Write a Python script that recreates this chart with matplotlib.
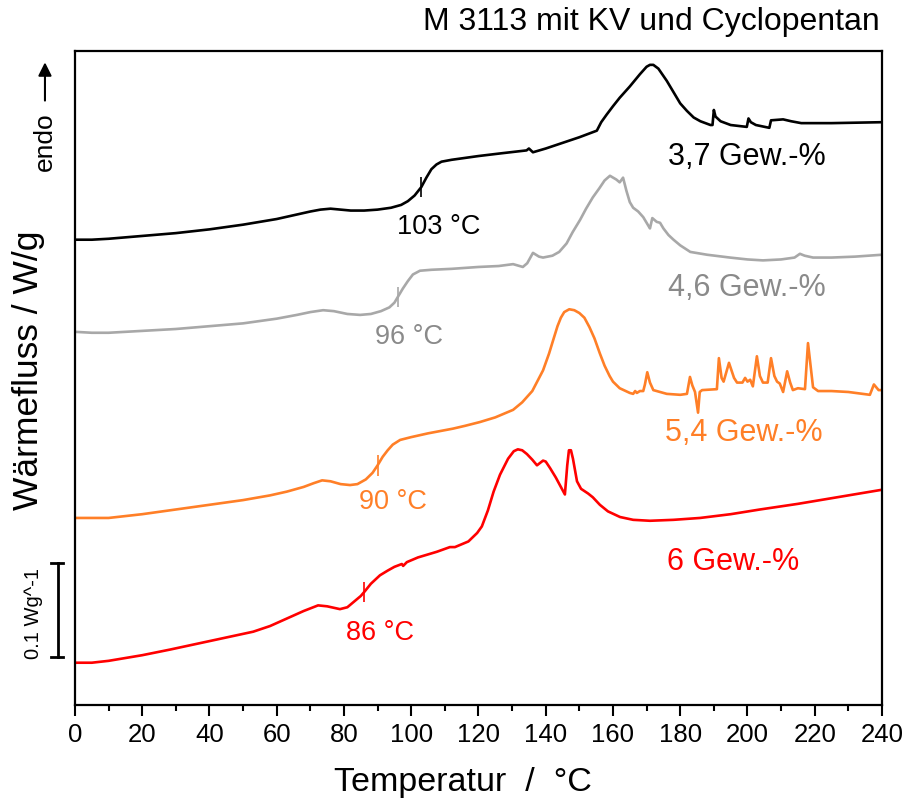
import numpy as np
import matplotlib
matplotlib.use("Agg")
import matplotlib.pyplot as plt
from matplotlib.transforms import blended_transform_factory

plt.rcParams['font.family'] = ['Liberation Sans', 'DejaVu Sans']

# Werte (Temperatur in °C, Wärmefluss in W/g, versetzt)
t_37 = [0, 5, 10, 20, 30, 40, 50, 60, 65, 70, 73, 76, 79, 82, 86, 90, 94, 97, 99, 101,
        103, 104.5, 106, 107.5, 109, 112, 116, 120, 127, 134.3, 135, 136.2, 140, 145, 150,
        155.2, 156.5, 158.1, 160, 162, 165, 168, 170, 171, 172, 173.5, 176, 178, 180, 182,
        184, 186, 189, 189.6, 190, 190.5, 192, 195, 199.8, 200.3, 201, 202.5, 206.5, 207,
        210.6, 213, 216, 225, 240]
q_37 = [0.495, 0.495, 0.496, 0.499, 0.502, 0.506, 0.511, 0.517, 0.521, 0.525, 0.527, 0.528,
        0.527, 0.526, 0.526, 0.527, 0.529, 0.532, 0.536, 0.542, 0.551, 0.561, 0.570, 0.575,
        0.578, 0.580, 0.582, 0.584, 0.587, 0.590, 0.592, 0.588, 0.592, 0.598, 0.604, 0.611,
        0.620, 0.628, 0.637, 0.646, 0.658, 0.671, 0.679, 0.681, 0.681, 0.677, 0.664, 0.652,
        0.640, 0.632, 0.625, 0.621, 0.617, 0.617, 0.633, 0.626, 0.621, 0.617, 0.615, 0.624,
        0.620, 0.617, 0.614, 0.622, 0.623, 0.621, 0.619, 0.619, 0.620]

t_46 = [0, 5, 10, 20, 30, 40, 50, 60, 66, 70, 73.8, 77, 81, 84.8, 88, 91, 93.5, 95, 96, 97.5,
        99, 100.5, 102.6, 106, 112, 120, 126, 130.3, 133.2, 134.5, 136.2, 138, 139.2, 142,
        144, 146.2, 148, 150.2, 152, 154, 156, 157.5, 159.1, 161, 162, 163, 164, 165, 166,
        167.5, 169, 170.5, 171, 171.7, 173, 174, 175, 176.5, 178, 180, 183, 188, 194.8, 200,
        204.6, 210, 214, 215.6, 217, 219.5, 225, 232, 240]
q_46 = [0.397, 0.396, 0.396, 0.398, 0.400, 0.403, 0.406, 0.411, 0.415, 0.418, 0.420, 0.419,
        0.416, 0.415, 0.416, 0.419, 0.423, 0.428, 0.434, 0.443, 0.451, 0.458, 0.462, 0.463,
        0.464, 0.466, 0.467, 0.469, 0.466, 0.470, 0.481, 0.477, 0.476, 0.478, 0.482, 0.491,
        0.503, 0.516, 0.528, 0.540, 0.550, 0.558, 0.563, 0.559, 0.556, 0.561, 0.547, 0.535,
        0.529, 0.525, 0.519, 0.510, 0.507, 0.518, 0.514, 0.513, 0.507, 0.500, 0.495, 0.489,
        0.482, 0.479, 0.476, 0.474, 0.473, 0.474, 0.476, 0.480, 0.478, 0.476, 0.476, 0.477,
        0.479]

t_54 = [0, 5, 10, 20, 30, 40, 50, 58, 63, 68, 71, 73.5, 76, 79, 81.8, 84, 86.5, 88.5, 90,
        91.5, 93, 94.5, 96.7, 100, 105, 112.4, 116, 120.4, 125, 130.3, 133, 136, 139.2, 141,
        142.2, 143.5, 144.5, 145.5, 147, 148.5, 150, 151.5, 153, 154.5, 156.1, 157.5, 159,
        160, 162, 165, 166, 166.6, 167.1, 168, 169, 169.5, 170.2, 171, 172, 176, 180, 182,
        182.9, 183.6, 184.4, 185.3, 185.8, 186.5, 190.9, 191.5, 192.3, 192.9, 194.5, 196,
        196.9, 198.5, 199.3, 200, 200.8, 201.6, 202.8, 203.7, 204.6, 206, 207, 208, 208.8,
        209.6, 210.6, 211.8, 212.7, 213.5, 215, 217.1, 218, 219.5, 221, 225, 230, 236.4,
        237.6, 239, 240]
q_54 = [0.199, 0.199, 0.199, 0.203, 0.208, 0.213, 0.218, 0.223, 0.227, 0.232, 0.236, 0.239,
        0.238, 0.235, 0.234, 0.235, 0.240, 0.247, 0.255, 0.264, 0.271, 0.277, 0.282, 0.285,
        0.289, 0.294, 0.297, 0.301, 0.306, 0.314, 0.322, 0.334, 0.356, 0.374, 0.388, 0.403,
        0.412, 0.418, 0.421, 0.420, 0.417, 0.412, 0.402, 0.390, 0.374, 0.361, 0.350, 0.344,
        0.337, 0.332, 0.331, 0.334, 0.332, 0.334, 0.334, 0.341, 0.354, 0.343, 0.335, 0.331,
        0.330, 0.331, 0.349, 0.340, 0.333, 0.311, 0.333, 0.335, 0.336, 0.369, 0.348, 0.344,
        0.364, 0.348, 0.343, 0.343, 0.348, 0.344, 0.346, 0.339, 0.371, 0.350, 0.343, 0.343,
        0.369, 0.350, 0.344, 0.342, 0.333, 0.355, 0.343, 0.335, 0.337, 0.336, 0.385, 0.338,
        0.334, 0.334, 0.333, 0.330, 0.341, 0.335, 0.335]

t_60 = [0, 5, 10, 20, 28.3, 40, 53, 58, 63, 68, 72.3, 75, 78.8, 81, 83, 85, 86.2, 88, 90.7,
        93, 95, 97.2, 97.6, 98.7, 102, 107.6, 111.5, 113, 115, 117, 119.6, 121, 122.8, 124.5,
        126.4, 128.8, 130.5, 131.7, 133, 134.4, 136, 137.4, 139.2, 140, 141.3, 143, 144.8,
        145.7, 146.4, 146.9, 147.5, 148.1, 149.3, 150.5, 152.6, 154, 156.1, 158.5, 162.1,
        166, 171, 178, 185.9, 195, 203.7, 215, 225, 240]
q_60 = [0.045, 0.045, 0.047, 0.053, 0.059, 0.068, 0.078, 0.084, 0.092, 0.100, 0.106, 0.105,
        0.102, 0.104, 0.110, 0.116, 0.121, 0.129, 0.138, 0.143, 0.147, 0.150, 0.148, 0.152,
        0.157, 0.163, 0.168, 0.168, 0.171, 0.174, 0.183, 0.190, 0.207, 0.227, 0.245, 0.262,
        0.270, 0.272, 0.271, 0.267, 0.261, 0.255, 0.260, 0.259, 0.252, 0.242, 0.230, 0.224,
        0.255, 0.271, 0.271, 0.262, 0.238, 0.230, 0.225, 0.221, 0.213, 0.206, 0.200, 0.197,
        0.196, 0.197, 0.199, 0.203, 0.208, 0.214, 0.220, 0.229]

namen = ['3,7 Gew.-%', '4,6 Gew.-%', '5,4 Gew.-%', '6 Gew.-%']
onsets = [103, 96, 90, 86]
farben = ['#000000', '#a8a8a8', '#ff7f27', '#ff0000']
textfarben = ['#000000', '#8a8a8a', '#ff7f27', '#ff0000']

# Positionen der Beschriftungen (Temperatur, Wärmefluss)
name_pos = [(199.9, 0.583), (199.9, 0.444), (199.0, 0.289), (195.6, 0.152)]
onset_pos = [(108.3, 0.509), (99.3, 0.391), (94.6, 0.216), (90.6, 0.077)]

kurven = [(t_37, q_37), (t_46, q_46), (t_54, q_54), (t_60, q_60)]

fig = plt.figure(figsize=(9.1, 8.05), dpi=100)
ax = fig.add_axes([0.0824, 0.1242, 0.8868, 0.8124])

for i, (t, q) in enumerate(kurven):
    ax.plot(t, q, color=farben[i], lw=1.9, solid_joinstyle='round')
    # Onset-Markierung
    y0 = np.interp(onsets[i], t, q)
    ax.vlines(onsets[i], y0 - 0.011, y0 + 0.011, color=farben[i], lw=1.2)
    ax.text(onset_pos[i][0], onset_pos[i][1], f"{onsets[i]} °C", color=textfarben[i],
            fontsize=19.5, ha='center', va='center')
    ax.text(name_pos[i][0], name_pos[i][1], namen[i], color=textfarben[i],
            fontsize=22, ha='center', va='center')

ax.set_xlim(0, 240)
ax.set_ylim(0, 0.6957)
ax.set_xticks(np.arange(0, 241, 20))
ax.set_xticks(np.arange(0, 241, 10), minor=True)
ax.set_yticks([])
ax.tick_params(axis='x', which='major', direction='out', length=8, width=1.5,
               labelsize=18.5, pad=5)
ax.tick_params(axis='x', which='minor', direction='out', length=4, width=1.5)
for s in ax.spines.values():
    s.set_linewidth(1.6)

ax.set_xlabel('Temperatur  /  °C', fontsize=24.5)
ax.xaxis.set_label_coords(0.481, -0.119)
ax.xaxis.label.set_va('center')
ax.set_ylabel('Wärmefluss / W/g', fontsize=25.5)
ax.yaxis.set_label_coords(-0.058, 0.512)
ax.yaxis.label.set_va('center')

# endo-Pfeil
ax.text(-0.0372, 0.862, 'endo', transform=ax.transAxes, rotation=90, fontsize=19,
        ha='center', va='center')
ax.annotate('', xy=(-0.0372, 0.987), xytext=(-0.0372, 0.92), xycoords='axes fraction',
            arrowprops=dict(arrowstyle='-|>', color='black', lw=1.5, mutation_scale=20),
            annotation_clip=False)

# Maßstab 0.1 W/g
tr = blended_transform_factory(ax.transAxes, ax.transData)
ax.plot([-0.021, -0.021], [0.051, 0.151], color='black', lw=2, transform=tr, clip_on=False)
ax.plot([-0.0297, -0.0145], [0.051, 0.051], color='black', lw=2, transform=tr, clip_on=False)
ax.plot([-0.0297, -0.0145], [0.151, 0.151], color='black', lw=2, transform=tr, clip_on=False)
ax.text(-0.052, 0.097, '0.1 Wg^-1', transform=tr, rotation=90, fontsize=14.5,
        ha='center', va='center')

fig.text(0.967, 1 - 22 / 805, 'M 3113 mit KV und Cyclopentan', fontsize=23,
         ha='right', va='center')

fig.savefig('out.png', dpi=100)
